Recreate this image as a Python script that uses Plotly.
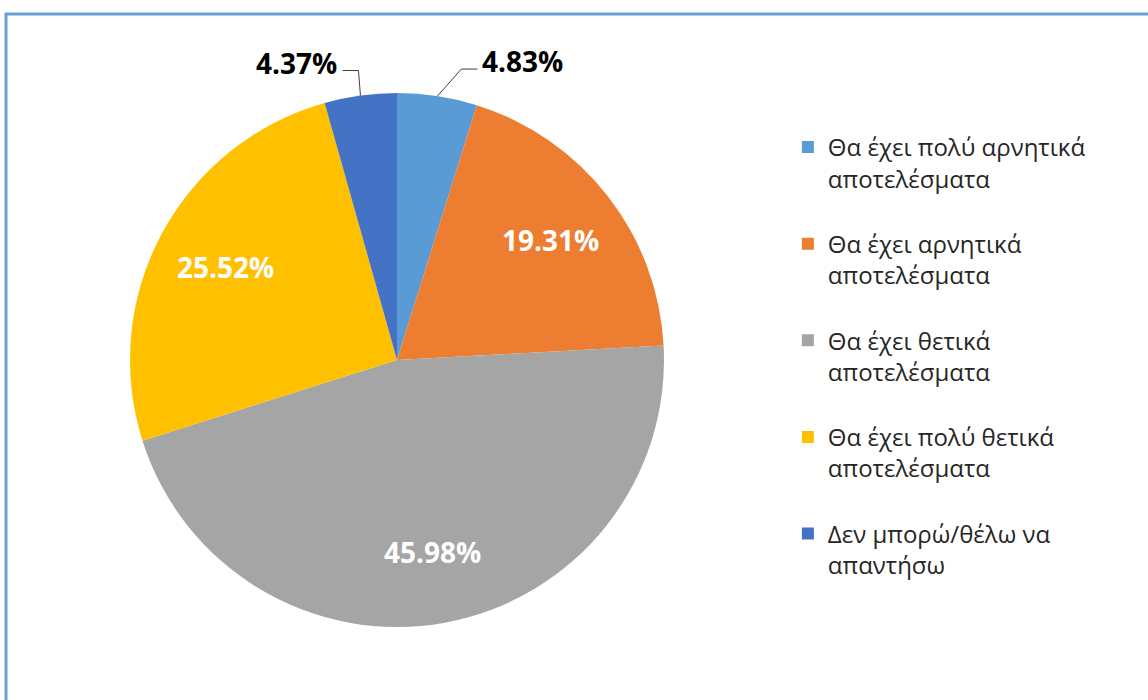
import math
import plotly.graph_objects as go

# Survey answers and their shares (%)
categories = [
    "Θα έχει πολύ αρνητικά αποτελέσματα",
    "Θα έχει αρνητικά αποτελέσματα",
    "Θα έχει θετικά αποτελέσματα",
    "Θα έχει πολύ θετικά αποτελέσματα",
    "Δεν μπορώ/θέλω να απαντήσω",
]
legend_lines = [
    ["Θα έχει πολύ αρνητικά", "αποτελέσματα"],
    ["Θα έχει αρνητικά", "αποτελέσματα"],
    ["Θα έχει θετικά", "αποτελέσματα"],
    ["Θα έχει πολύ θετικά", "αποτελέσματα"],
    ["Δεν μπορώ/θέλω να", "απαντήσω"],
]
shares = [4.83, 19.31, 45.98, 25.52, 4.37]
colors = ["#5B9BD5", "#ED7D31", "#A5A5A5", "#FFC000", "#4472C4"]

W, H = 1148, 700
cx, cy, r = 397, 360, 267  # pie centre / radius in pixels
LABEL_FONT = "Open Sans"
LABEL_SIZE = 28

labels_txt = [f"{v:.2f}%" for v in shares]
small = [v < 10 for v in shares]
# blank trailing line gives the roomy spacing between legend entries
legend_names = ["<br>".join(lines) + "<br> " for lines in legend_lines]

fig = go.Figure(
    go.Pie(
        labels=legend_names,
        values=shares,
        sort=False,
        direction="clockwise",
        rotation=0,
        marker=dict(colors=colors, line=dict(width=0)),
        textinfo="none",
        hoverinfo="skip",
        domain=dict(
            x=[(cx - r) / W, (cx + r) / W],
            y=[1 - (cy + r) / H, 1 - (cy - r) / H],
        ),
    )
)

def px(x, y):
    return x / W, 1 - y / H

total = sum(shares)
cum = 0.0
annotations = []
shapes = []
for v, t, s in zip(shares, labels_txt, small):
    mid = (cum + v / 2) / total * 2 * math.pi
    cum += v
    if not s:
        # value label inside the slice, along its bisector
        lx = cx + 0.73 * r * math.sin(mid)
        ly = cy - 0.73 * r * math.cos(mid)
        ax, ay = px(lx, ly)
        annotations.append(dict(
            x=ax, y=ay, xref="paper", yref="paper",
            text=f"<b>{t}</b>", showarrow=False,
            xanchor="center", yanchor="middle",
            font=dict(family=LABEL_FONT, size=LABEL_SIZE, color="white"),
        ))
        continue
    # thin slice: label outside with an elbow leader line
    sx = cx + r * math.sin(mid)
    sy = cy - r * math.cos(mid)
    side = 1 if math.sin(mid) > 0 else -1
    if side > 0:
        ex, ey = sx + 24, sy - 27
    else:
        ex, ey = sx - 2, sy - 25
    hx = ex + side * 16
    p0, p1, p2 = px(sx, sy), px(ex, ey), px(hx, ey)
    shapes.append(dict(
        type="path", xref="paper", yref="paper",
        path=f"M{p0[0]},{p0[1]} L{p1[0]},{p1[1]} L{p2[0]},{p2[1]}",
        line=dict(color="#404040", width=1),
    ))
    ax, ay = px(hx + side * 3, ey - 8)
    annotations.append(dict(
        x=ax, y=ay, xref="paper", yref="paper",
        text=f"<b>{t}</b>", showarrow=False,
        xanchor="left" if side > 0 else "right", yanchor="middle",
        font=dict(family=LABEL_FONT, size=LABEL_SIZE, color="black"),
    ))

# Frame around the chart
shapes.append(dict(
    type="rect", xref="paper", yref="paper",
    x0=6 / W, y0=-0.05, x1=1.05, y1=1 - 14 / H,
    line=dict(color="#6A9FD4", width=3), layer="below",
))

fig.update_layout(
    width=W, height=H,
    margin=dict(l=0, r=0, t=0, b=0),
    paper_bgcolor="white",
    plot_bgcolor="white",
    showlegend=True,
    legend=dict(
        x=0.6863, y=1 - 125 / H, xanchor="left", yanchor="top",
        valign="top",
        font=dict(family="Open Sans", size=24, color="#262626"),
        bgcolor="rgba(0,0,0,0)",
        traceorder="normal",
    ),
    annotations=annotations,
    shapes=shapes,
)

fig.write_html("out.html")
